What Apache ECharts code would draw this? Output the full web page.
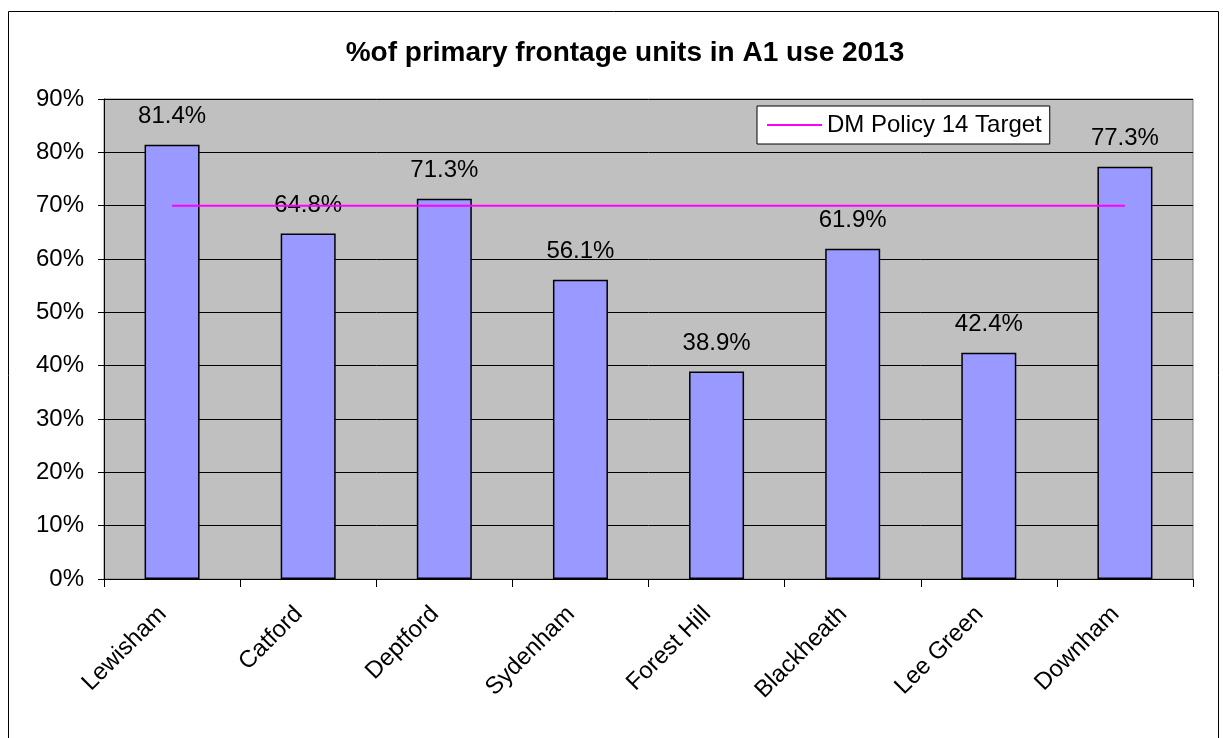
<!DOCTYPE html>
<html><head><meta charset="utf-8">
<script src="https://cdn.jsdelivr.net/npm/echarts@6/dist/echarts.min.js"></script>
<style>html,body{margin:0;padding:0;background:#fff}#c{width:1223px;height:738px}</style>
</head><body><div id="c"></div>
<script>
const categories = ['Lewisham','Catford','Deptford','Sydenham','Forest Hill','Blackheath','Lee Green','Downham'];
const values = [81.4, 64.8, 71.3, 56.1, 38.9, 61.9, 42.4, 77.3];
const target = [70, 70, 70, 70, 70, 70, 70, 70];
const yTicks = [0, 10, 20, 30, 40, 50, 60, 70, 80, 90];

const chart = echarts.init(document.getElementById('c'));
const F = 'Liberation Sans, Arial, sans-serif';
chart.setOption({
  animation: false,
  graphic: [{type:'rect', shape:{x:8.5,y:11.5,width:1210,height:740}, style:{fill:'none',stroke:'#000',lineWidth:1}, z:-10}],
  title: {text:'%of primary frontage units in A1 use 2013', left:620, top:34, textAlign:'center',
    textStyle:{fontFamily:F, fontSize:28, fontWeight:'bold', color:'#000'}},
  grid: {left:104, right:30, top:99, bottom:159, show:true, backgroundColor:'#C0C0C0', borderColor:'#808080', borderWidth:1},
  legend: {data:[{name:'DM Policy 14 Target', icon:'rect'}], left:757, top:106,
    backgroundColor:'#fff', borderColor:'#000', borderWidth:1, padding:[7,8,7,10],
    itemWidth:55, itemHeight:2, itemGap:10,
    textStyle:{fontFamily:F, fontSize:24, color:'#000'}},
  xAxis: {type:'category', data:categories, boundaryGap:true,
    axisLine:{lineStyle:{color:'#000'}}, axisTick:{show:true, length:8, alignWithLabel:false, lineStyle:{color:'#000'}},
    axisLabel:{rotate:45, fontFamily:F, fontSize:24, color:'#000', margin:22, formatter: v => v + '  '}},
  yAxis: {type:'value', min:0, max:90, interval:10,
    axisLine:{show:true, lineStyle:{color:'#000'}}, axisTick:{show:true, length:6, lineStyle:{color:'#000'}},
    axisLabel:{fontFamily:F, fontSize:24, color:'#000', margin:20, formatter: v => yTicks.includes(v) ? v + '%' : ''},
    splitLine:{show:true, lineStyle:{color:'#000', width:1}}},
  series: [
    {name:'% A1', type:'bar', data:values, barWidth:55,
      itemStyle:{color:'#9999FF', borderColor:'#000', borderWidth:1.5},
      label:{show:true, position:'top', distance:16, formatter: p => p.value.toFixed(1) + '%', fontFamily:F, fontSize:24, color:'#000'}},
    {name:'DM Policy 14 Target', type:'line', data:target, symbol:'none', z:5,
      lineStyle:{color:'#FF00FF', width:2}, itemStyle:{color:'#FF00FF'}}
  ]
});
</script></body></html>
